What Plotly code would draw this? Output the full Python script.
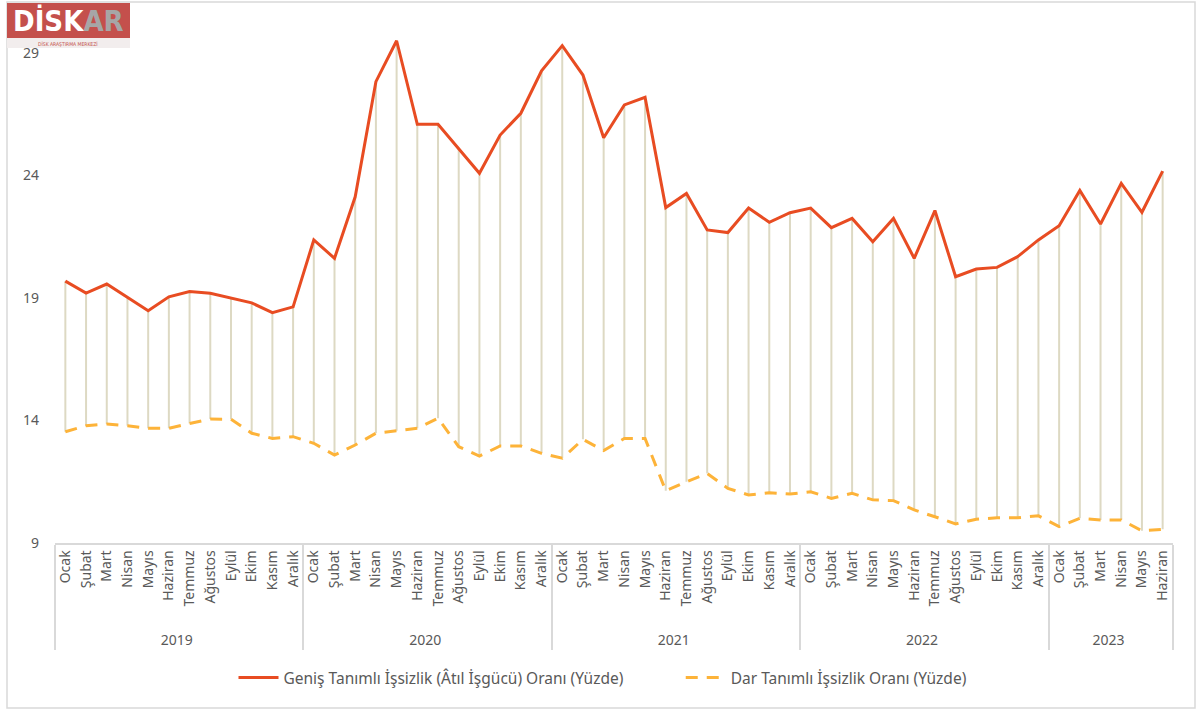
import plotly.graph_objects as go

months = ["Ocak", "Şubat", "Mart", "Nisan", "Mayıs", "Haziran",
          "Temmuz", "Ağustos", "Eylül", "Ekim", "Kasım", "Aralık"]
years = ["2019", "2020", "2021", "2022", "2023"]
months_last_year = 6

genis = [19.69, 19.2, 19.57, 19.04, 18.48, 19.05, 19.26, 19.19, 18.99, 18.8, 18.4, 18.64,
         21.37, 20.62, 23.13, 27.83, 29.5, 26.09, 26.09, 25.11, 24.09, 25.65, 26.54, 28.27,
         29.3, 28.1, 25.54, 26.88, 27.19, 22.69, 23.27, 21.78, 21.67, 22.67, 22.09, 22.48,
         22.67, 21.87, 22.25, 21.3, 22.25, 20.62, 22.57, 19.87, 20.18, 20.25, 20.69, 21.37,
         21.95, 23.39, 22.02, 23.68, 22.5, 24.18]
dar = [13.54, 13.79, 13.86, 13.79, 13.68, 13.68, 13.88, 14.06, 14.05, 13.48, 13.27, 13.34,
       13.07, 12.59, 13.0, 13.48, 13.58, 13.68, 14.09, 12.93, 12.55, 12.96, 12.96, 12.66,
       12.46, 13.23, 12.77, 13.27, 13.27, 11.13, 11.5, 11.84, 11.23, 10.96, 11.05, 11.0,
       11.09, 10.82, 11.03, 10.76, 10.73, 10.35, 10.07, 9.78, 9.97, 10.03, 10.03, 10.11,
       9.67, 10.01, 9.94, 9.94, 9.5, 9.56]

NB = "\u00a0"
x_year, x_month = [], []
for i, y in enumerate(years):
    n = months_last_year if i == len(years) - 1 else 12
    for m in months[:n]:
        x_year.append(y)
        x_month.append(NB * 3 + m)
x = [x_year, x_month]

W, H = 1197, 711
ML, MR, MT, MB = 55, 24, 4, 168
def px(v):
    return (v - ML) / (W - ML - MR)
def py(v):
    return (H - MB - v) / (H - MB - MT)

GREY = "#595959"
FONT = "Noto Sans"

fig = go.Figure()
fig.add_trace(go.Scatter(
    x=x, y=genis, mode="markers", marker=dict(size=1, color="rgba(0,0,0,0)"),
    error_y=dict(type="data", symmetric=False, array=[0] * len(genis),
                 arrayminus=[g - d for g, d in zip(genis, dar)],
                 color="#DDD9C3", thickness=2, width=0),
    showlegend=False, hoverinfo="skip"))
fig.add_trace(go.Scatter(
    x=x, y=genis, mode="lines",
    name="Geniş Tanımlı İşsizlik (Âtıl İşgücü) Oranı (Yüzde)" + NB * 13,
    line=dict(color="#E84C22", width=3)))
fig.add_trace(go.Scatter(
    x=x, y=dar, mode="lines", name="Dar Tanımlı İşsizlik Oranı (Yüzde)",
    line=dict(color="#FDB339", width=3, dash="12px,9px")))

fig.update_layout(
    width=W, height=H,
    margin=dict(l=ML, r=MR, t=MT, b=MB),
    paper_bgcolor="white", plot_bgcolor="white",
    font=dict(family=FONT, color=GREY, size=14),
    legend=dict(orientation="h", x=px(603), xanchor="center", y=py(678), yanchor="middle",
                font=dict(size=15.5, color=GREY), itemwidth=40),
    xaxis=dict(type="multicategory", range=[-0.5, 53.5], tickangle=-90, showline=True,
               linecolor="#D9D9D9", linewidth=1.5, showgrid=False, ticks="",
               showdividers=True, dividercolor="#D9D9D9", dividerwidth=1.5,
               tickfont=dict(size=14, color=GREY)),
    yaxis=dict(range=[9, 31], tickvals=[9, 14, 19, 24, 29], showgrid=False,
               zeroline=False, showline=False, ticks="", ticklabelstandoff=15,
               tickfont=dict(size=14, color=GREY)),
    shapes=[
        dict(type="rect", xref="paper", yref="paper", x0=px(7), x1=px(1195),
             y0=py(708), y1=py(2), line=dict(color="#D9D9D9", width=1.5),
             fillcolor="rgba(0,0,0,0)", layer="below"),
        dict(type="rect", xref="paper", yref="paper", x0=px(7), x1=px(130),
             y0=py(38), y1=py(3), line=dict(width=0), fillcolor="#C4504C", layer="above"),
        dict(type="rect", xref="paper", yref="paper", x0=px(7), x1=px(130),
             y0=py(48), y1=py(38), line=dict(width=0), fillcolor="#F2EDED", layer="above"),
    ],
    annotations=[
        dict(xref="paper", yref="paper", x=px(68), y=py(21), showarrow=False,
             xanchor="center", yanchor="middle",
             text="<b>DİSK</b><span style='color:#A6A6A6'><b>AR</b></span>",
             font=dict(family="DejaVu Sans Condensed", size=29, color="white")),
        dict(xref="paper", yref="paper", x=px(68), y=py(43.5), showarrow=False,
             xanchor="center", yanchor="middle",
             text="DİSK ARAŞTIRMA MERKEZİ",
             font=dict(family="DejaVu Sans Condensed", size=5, color="#C4504C")),
    ],
)

fig.write_html("out.html", config={"displayModeBar": False},
               post_script="document.body.style.margin='0';document.body.style.overflow='hidden';")
